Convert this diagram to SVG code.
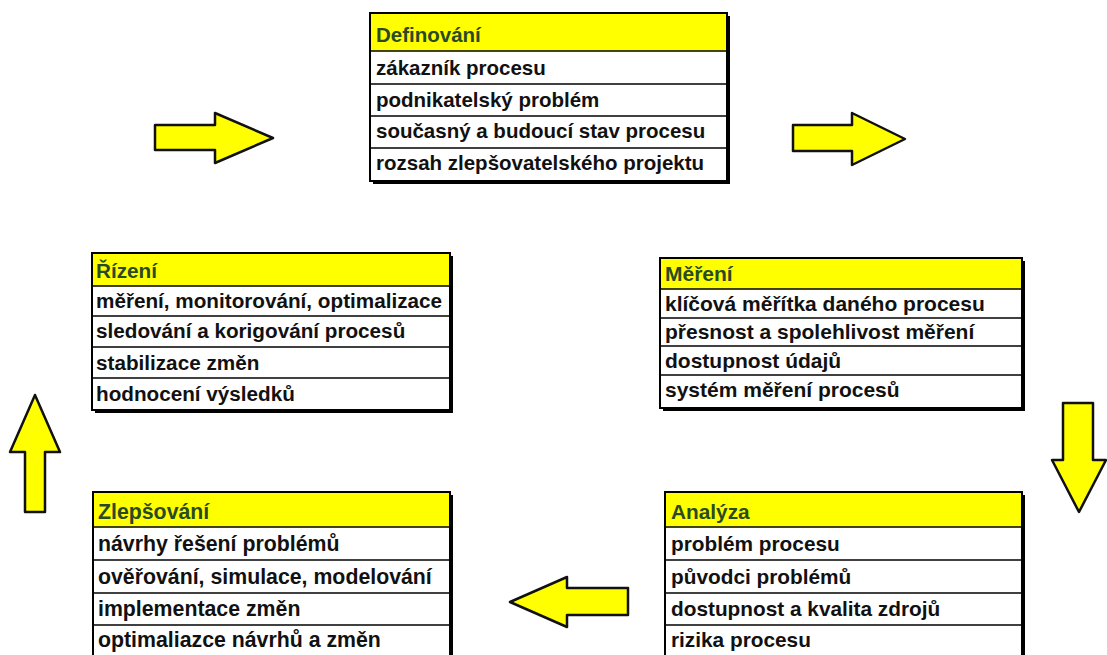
<svg xmlns="http://www.w3.org/2000/svg" width="1107" height="655" viewBox="0 0 1107 655">
  <style>
    .shadow { fill: #000; }
    .frame { fill: #fff; stroke: #000; stroke-width: 2; }
    .head { fill: #ffff00; }
    .sep { stroke: #000; stroke-width: 1.5; }
    text { font-family: "Liberation Sans", Arial, sans-serif; font-weight: bold; }
    .title { fill: #2a4a26; }
    .item { fill: #111; }
    #definovani text { font-size: 20.5px; }
    #rizeni text { font-size: 20.7px; }
    #mereni text { font-size: 21px; }
    #analyza text { font-size: 20.8px; }
    #zlepsovani text { font-size: 21.3px; }
    .arrow { fill: #ffff00; stroke: #111; stroke-width: 2.5; stroke-linejoin: round; }
  </style>

  <rect width="1107" height="655" fill="#fff"/>

  <!-- Definování -->
  <g id="definovani">
    <rect class="shadow" x="373" y="16" width="357" height="168"/>
    <rect class="frame" x="370" y="13" width="357" height="168"/>
    <rect class="head" x="371" y="14" width="355" height="37"/>
    <line class="sep" x1="370" y1="51" x2="727" y2="51"/>
    <line class="sep" x1="370" y1="84" x2="727" y2="84"/>
    <line class="sep" x1="370" y1="116" x2="727" y2="116"/>
    <line class="sep" x1="370" y1="148" x2="727" y2="148"/>
    <text class="title" x="376" y="42">Definování</text>
    <text class="item" x="376" y="75">zákazník procesu</text>
    <text class="item" x="376" y="107">podnikatelský problém</text>
    <text class="item" x="376" y="138">současný a budoucí stav procesu</text>
    <text class="item" x="376" y="170">rozsah zlepšovatelského projektu</text>
  </g>

  <!-- Řízení -->
  <g id="rizeni">
    <rect class="shadow" x="95" y="256" width="358" height="157"/>
    <rect class="frame" x="92" y="253" width="358" height="157"/>
    <rect class="head" x="93" y="254" width="356" height="32"/>
    <line class="sep" x1="92" y1="286" x2="450" y2="286"/>
    <line class="sep" x1="92" y1="316" x2="450" y2="316"/>
    <line class="sep" x1="92" y1="347" x2="450" y2="347"/>
    <line class="sep" x1="92" y1="378" x2="450" y2="378"/>
    <text class="title" x="96" y="278">Řízení</text>
    <text class="item" x="96" y="308">měření, monitorování, optimalizace</text>
    <text class="item" x="96" y="338">sledování a korigování procesů</text>
    <text class="item" x="96" y="370">stabilizace změn</text>
    <text class="item" x="96" y="401">hodnocení výsledků</text>
  </g>

  <!-- Měření -->
  <g id="mereni">
    <rect class="shadow" x="663" y="261" width="362" height="150"/>
    <rect class="frame" x="660" y="258" width="362" height="150"/>
    <rect class="head" x="661" y="259" width="360" height="30"/>
    <line class="sep" x1="660" y1="289" x2="1022" y2="289"/>
    <line class="sep" x1="660" y1="318" x2="1022" y2="318"/>
    <line class="sep" x1="660" y1="346" x2="1022" y2="346"/>
    <line class="sep" x1="660" y1="375" x2="1022" y2="375"/>
    <text class="title" x="665" y="281">Měření</text>
    <text class="item" x="665" y="311">klíčová měřítka daného procesu</text>
    <text class="item" x="665" y="339">přesnost a spolehlivost měření</text>
    <text class="item" x="665" y="368">dostupnost údajů</text>
    <text class="item" x="665" y="397">systém měření procesů</text>
  </g>

  <!-- Zlepšování -->
  <g id="zlepsovani">
    <rect class="shadow" x="96" y="495" width="357" height="170"/>
    <rect class="frame" x="93" y="492" width="357" height="170"/>
    <rect class="head" x="94" y="493" width="355" height="34"/>
    <line class="sep" x1="93" y1="527" x2="450" y2="527"/>
    <line class="sep" x1="93" y1="560" x2="450" y2="560"/>
    <line class="sep" x1="93" y1="593" x2="450" y2="593"/>
    <line class="sep" x1="93" y1="625" x2="450" y2="625"/>
    <text class="title" x="98" y="519">Zlepšování</text>
    <text class="item" x="98" y="551">návrhy řešení problémů</text>
    <text class="item" x="98" y="584">ověřování, simulace, modelování</text>
    <text class="item" x="98" y="616">implementace změn</text>
    <text class="item" x="98" y="647">optimaliazce návrhů a změn</text>
  </g>

  <!-- Analýza -->
  <g id="analyza">
    <rect class="shadow" x="668" y="495" width="357" height="170"/>
    <rect class="frame" x="665" y="492" width="357" height="170"/>
    <rect class="head" x="666" y="493" width="355" height="34"/>
    <line class="sep" x1="665" y1="527" x2="1022" y2="527"/>
    <line class="sep" x1="665" y1="560" x2="1022" y2="560"/>
    <line class="sep" x1="665" y1="593" x2="1022" y2="593"/>
    <line class="sep" x1="665" y1="625" x2="1022" y2="625"/>
    <text class="title" x="671" y="519">Analýza</text>
    <text class="item" x="671" y="551">problém procesu</text>
    <text class="item" x="671" y="584">původci problémů</text>
    <text class="item" x="671" y="616">dostupnost a kvalita zdrojů</text>
    <text class="item" x="671" y="647">rizika procesu</text>
  </g>

  <!-- cycle arrows -->
  <g id="connectors">
    <polygon class="arrow" points="155,125 215,125 215,113 273,138 215,163 215,150 155,150"/>
    <polygon class="arrow" points="793,125 852,125 852,113 905,139 852,165 852,151 793,151"/>
    <polygon class="arrow" points="1063,403 1093,403 1093,460 1106,460 1079,512 1052,460 1063,460"/>
    <polygon class="arrow" points="628,588 567,588 567,577 510,602 567,627 567,615 628,615"/>
    <polygon class="arrow" points="35,395 60,452 45,452 45,512 25,512 25,452 10,452"/>
  </g>
</svg>
